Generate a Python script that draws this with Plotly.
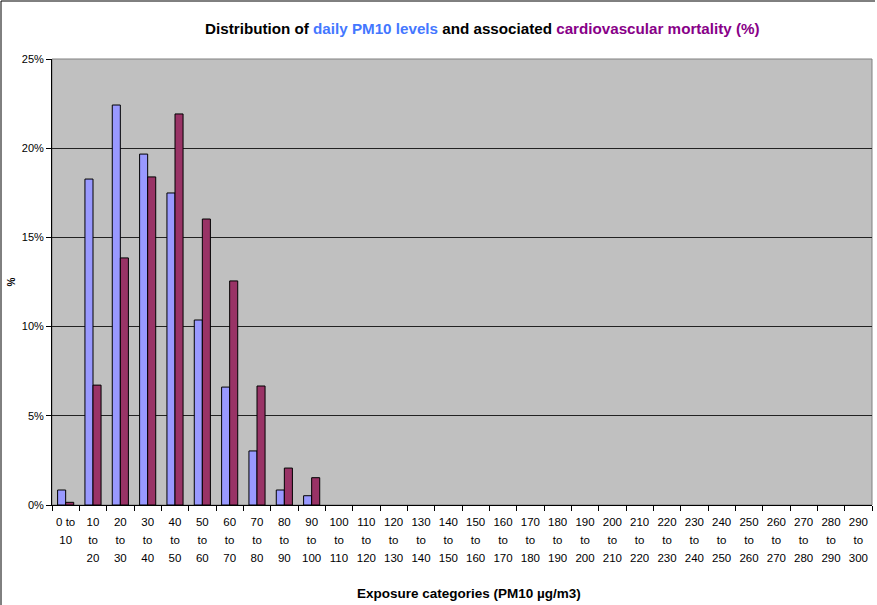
import plotly.graph_objects as go

BLUE = "#9999FF"
WINE = "#993366"
PLOT_BG = "#C0C0C0"
FONT = "Arial, Liberation Sans, sans-serif"

lower = list(range(0, 300, 10))
categories = [f"{a} to<br>{a + 10}" if a == 0 else f"{a}<br>to<br>{a + 10}" for a in lower]

# share of days per PM10 band (%)
pm10_days = [0.84, 18.27, 22.42, 19.67, 17.49, 10.37, 6.61, 3.03, 0.84, 0.52] + [0] * 20
# share of cardiovascular deaths per band (%)
cv_mortality = [0.15, 6.72, 13.85, 18.39, 21.92, 16.03, 12.56, 6.67, 2.07, 1.53] + [0] * 20


def frac(vals):
    # empty bands are not drawn at all
    return [v / 100 if v else None for v in vals]


fig = go.Figure()
fig.add_trace(go.Bar(x=categories, y=frac(pm10_days), name="daily PM10 levels",
                     marker=dict(color=BLUE, line=dict(color="black", width=1))))
fig.add_trace(go.Bar(x=categories, y=frac(cv_mortality), name="cardiovascular mortality",
                     marker=dict(color=WINE, line=dict(color="black", width=1))))

title = ("<b>Distribution of <span style='color:#4477FF'>daily PM10 levels</span> and associated "
         "<span style='color:#880088'>cardiovascular mortality (%)</span></b>")

fig.update_layout(
    width=877, height=605,
    paper_bgcolor="white", plot_bgcolor=PLOT_BG,
    font=dict(family=FONT, color="black", size=11),
    margin=dict(l=52, r=5, t=59, b=100),
    showlegend=False,
    barmode="group", bargap=0.41, bargroupgap=0,
    title=dict(text=title, x=0.55, xanchor="center", y=0.952, yanchor="middle",
               font=dict(family=FONT, size=15.2, color="black")),
)
# tick font 14 sets the line spacing, the spans shrink the glyphs back to 11px
fig.update_xaxes(
    tickmode="array", tickvals=categories,
    ticktext=["<span style='font-size:11.5px'>" + c.replace("<br>", "</span><br><span style='font-size:11.5px'>") + "</span>"
              for c in categories],
    tickfont=dict(size=14), ticklabelstandoff=3,
    showline=True, linecolor="black", linewidth=1,
    ticks="outside", tickson="boundaries", ticklen=5, tickcolor="black",
    tickangle=0, showgrid=False,
)
fig.update_yaxes(
    range=[0, 0.25], dtick=0.05, tickformat=".0%",
    showline=True, linecolor="black", linewidth=1,
    ticks="outside", ticklen=5, tickcolor="black",
    gridcolor="#222222", gridwidth=1, zeroline=False,
    title=dict(text="<b>%</b>", font=dict(size=10), standoff=4),
)
fig.add_annotation(text="<b>Exposure categories (PM10 µg/m3)</b>", xref="paper", yref="paper",
                   x=(469 - 52) / 820, y=-(593 - 505) / 446, xanchor="center", yanchor="middle",
                   showarrow=False, font=dict(size=13.5))
# grey frame on top / right of the plot area
fig.add_shape(type="rect", xref="paper", yref="paper", x0=0, x1=1, y0=0, y1=1,
              line=dict(color="#808080", width=1), layer="below")
# outer chart frame (left and top edges visible)
fig.add_shape(type="line", xref="paper", yref="paper", x0=-51 / 820, x1=-51 / 820,
              y0=-100 / 446, y1=1 + 58 / 446, line=dict(color="black", width=1))
fig.add_shape(type="line", xref="paper", yref="paper", x0=-51 / 820, x1=1 + 3 / 820,
              y0=1 + 58 / 446, y1=1 + 58 / 446, line=dict(color="black", width=1))

fig.write_html("out.html", config={"displayModeBar": False},
               post_script="document.body.style.margin='0';")
